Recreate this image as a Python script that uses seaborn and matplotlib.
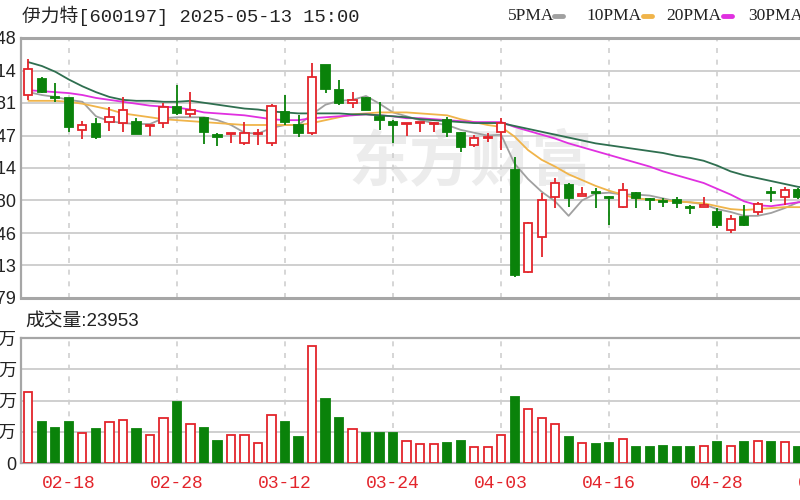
import matplotlib
matplotlib.use("Agg")
import matplotlib.pyplot as plt
from matplotlib.lines import Line2D
import seaborn as sns

# trading days shown (the last two are cut off by the right edge)
dates = ["02-13", "02-14", "02-17", "02-18", "02-19", "02-20", "02-21", "02-24", "02-25", "02-26",
         "02-27", "02-28", "03-03", "03-04", "03-05", "03-06", "03-07", "03-10", "03-11", "03-12",
         "03-13", "03-14", "03-17", "03-18", "03-19", "03-20", "03-21", "03-24", "03-25", "03-26",
         "03-27", "03-28", "03-31", "04-01", "04-02", "04-03", "04-07", "04-08", "04-09", "04-10",
         "04-11", "04-14", "04-15", "04-16", "04-17", "04-18", "04-21", "04-22", "04-23", "04-24",
         "04-25", "04-28", "04-29", "04-30", "05-06", "05-07", "05-08", "05-09", "05-12", "05-13"]

open_ = [16.89, 17.06, 16.87, 16.86, 16.53, 16.59, 16.61, 16.60, 16.61, 16.57, 16.60, 16.77, 16.69, 16.65, 16.48,
         16.49, 16.39, 16.49, 16.39, 16.71, 16.58, 16.50, 17.20, 16.94, 16.81, 16.86, 16.66, 16.61, 16.59, 16.60,
         16.59, 16.63, 16.50, 16.37, 16.45, 16.51, 16.11, 15.06, 15.42, 15.84, 15.96, 15.85, 15.89, 15.84, 15.73,
         15.88, 15.81, 15.79, 15.80, 15.73, 15.73, 15.68, 15.49, 15.63, 15.68, 15.89, 15.84, 15.91, 15.84, 15.82]
high = [17.26, 17.08, 17.01, 16.86, 16.62, 16.65, 16.77, 16.87, 16.65, 16.58, 16.81, 16.99, 16.92, 16.66, 16.50,
        16.50, 16.61, 16.54, 16.80, 16.89, 16.68, 17.22, 17.20, 17.05, 16.92, 16.87, 16.82, 16.63, 16.60, 16.61,
        16.61, 16.66, 16.51, 16.48, 16.50, 16.65, 16.25, 15.58, 15.88, 16.03, 15.98, 15.94, 15.93, 15.85, 15.98,
        15.89, 15.82, 15.82, 15.84, 15.75, 15.84, 15.72, 15.65, 15.75, 15.78, 15.94, 15.94, 15.93, 15.90, 15.88]
low = [16.84, 16.91, 16.82, 16.51, 16.43, 16.44, 16.52, 16.51, 16.49, 16.47, 16.55, 16.68, 16.66, 16.38, 16.36,
       16.39, 16.37, 16.37, 16.36, 16.58, 16.46, 16.48, 16.91, 16.79, 16.76, 16.73, 16.53, 16.39, 16.47, 16.51,
       16.51, 16.46, 16.30, 16.35, 16.40, 16.32, 15.01, 15.05, 15.21, 15.72, 15.73, 15.85, 15.72, 15.55, 15.72,
       15.72, 15.70, 15.73, 15.72, 15.66, 15.73, 15.51, 15.46, 15.54, 15.65, 15.78, 15.75, 15.81, 15.78, 15.76]
close = [17.16, 16.92, 16.86, 16.56, 16.58, 16.46, 16.66, 16.74, 16.49, 16.58, 16.77, 16.70, 16.74, 16.51, 16.46,
         16.50, 16.50, 16.50, 16.78, 16.61, 16.50, 17.08, 16.95, 16.81, 16.84, 16.74, 16.63, 16.58, 16.60, 16.60,
         16.59, 16.51, 16.35, 16.45, 16.46, 16.60, 15.03, 15.57, 15.80, 15.98, 15.82, 15.87, 15.88, 15.82, 15.91,
         15.82, 15.80, 15.78, 15.77, 15.72, 15.75, 15.55, 15.61, 15.55, 15.76, 15.88, 15.91, 15.84, 15.82, 15.80]

# moving averages as drawn on the chart
ma5 = [16.92, 16.89, 16.87, 16.84, 16.82, 16.67, 16.62, 16.60, 16.59, 16.59, 16.65, 16.66, 16.66, 16.66, 16.63,
       16.58, 16.50, 16.49, 16.55, 16.58, 16.58, 16.69, 16.79, 16.83, 16.84, 16.88, 16.80, 16.71, 16.67, 16.63,
       16.60, 16.58, 16.53, 16.50, 16.47, 16.48, 16.18, 16.02, 15.89, 15.79, 15.64, 15.80, 15.87, 15.88, 15.86,
       15.86, 15.85, 15.82, 15.79, 15.78, 15.76, 15.71, 15.68, 15.64, 15.64, 15.67, 15.72, 15.78, 15.80, 15.82]
ma10 = [16.83, 16.83, 16.83, 16.82, 16.80, 16.77, 16.74, 16.70, 16.68, 16.66, 16.64, 16.63, 16.62, 16.61, 16.60,
        16.59, 16.58, 16.58, 16.58, 16.58, 16.58, 16.60, 16.63, 16.66, 16.69, 16.70, 16.71, 16.71, 16.71, 16.70,
        16.69, 16.68, 16.64, 16.61, 16.58, 16.56, 16.46, 16.32, 16.22, 16.15, 16.07, 16.01, 15.95, 15.90, 15.86,
        15.82, 15.81, 15.80, 15.79, 15.78, 15.77, 15.74, 15.71, 15.70, 15.71, 15.72, 15.73, 15.73, 15.73, 15.73]
ma20 = [16.94, 16.93, 16.92, 16.91, 16.89, 16.86, 16.84, 16.82, 16.80, 16.78, 16.77, 16.76, 16.74, 16.71, 16.70,
        16.69, 16.68, 16.66, 16.64, 16.63, 16.63, 16.65, 16.66, 16.67, 16.68, 16.69, 16.68, 16.67, 16.65, 16.65,
        16.64, 16.63, 16.62, 16.61, 16.61, 16.61, 16.56, 16.52, 16.48, 16.44, 16.39, 16.35, 16.31, 16.27, 16.23,
        16.19, 16.15, 16.10, 16.06, 16.02, 15.98, 15.92, 15.86, 15.79, 15.75, 15.74, 15.76, 15.78, 15.79, 15.80]
ma30 = [17.23, 17.19, 17.13, 17.05, 16.98, 16.92, 16.87, 16.84, 16.83, 16.83, 16.82, 16.82, 16.83, 16.81, 16.79,
        16.77, 16.75, 16.74, 16.72, 16.71, 16.70, 16.70, 16.70, 16.70, 16.69, 16.69, 16.68, 16.67, 16.66, 16.64,
        16.63, 16.62, 16.61, 16.60, 16.60, 16.60, 16.57, 16.54, 16.51, 16.48, 16.45, 16.42, 16.39, 16.37, 16.35,
        16.33, 16.31, 16.29, 16.26, 16.24, 16.21, 16.16, 16.10, 16.06, 16.03, 16.00, 15.97, 15.94, 15.92, 15.90]

# volume in lots (手)
volume = [68200, 39400, 33600, 39400, 28800, 32600, 39400, 41300, 32600, 26900, 43200, 58600, 37400, 33600, 21100,
          26900, 26900, 19200, 46100, 39400, 25000, 112300, 61400, 43200, 32600, 28800, 28800, 28800, 21100, 18200,
          18200, 19200, 21100, 15400, 15400, 26900, 63400, 51800, 43200, 37400, 25000, 19200, 18200, 19200, 23000,
          15400, 15400, 16300, 15400, 15400, 16300, 20200, 16300, 20200, 21100, 20200, 20200, 15400, 19000, 23953]

price_ticks = [14.79, 15.13, 15.46, 15.80, 16.14, 16.47, 16.81, 17.14, 17.48]
price_labels = ["14.79", "15.13", "15.46", "15.80", "16.14", "16.47", "16.81", "17.14", "17.48"]
vol_ticks = [0, 30000, 60000, 90000, 120000]
vol_labels = ["0", "3万", "6万", "9万", "12万"]
date_ticks = [3, 11, 19, 27, 35, 43, 51, 59]

RED = "#e3242b"
GREEN = "#0a820a"
GRID = "#cfcfcf"
FRAME = "#a6a6a6"
ma_colors = {"5PMA": "#a0a0a0", "10PMA": "#f0b44a", "20PMA": "#e030e0", "30PMA": "#2f6f50"}

sns.set_theme(style="white")
plt.rcParams["font.family"] = ["Liberation Sans", "Noto Sans CJK SC", "DejaVu Sans"]

W, H = 800, 500
fig = plt.figure(figsize=(8, 5), dpi=100)
fig.patch.set_facecolor("white")
ax = fig.add_axes([21 / W, (H - 298) / H, 817 / W, 260 / H])
axv = fig.add_axes([21 / W, (H - 463) / H, 817 / W, 125 / H])

idx = list(range(len(dates)))
up = [c >= o for o, c in zip(open_, close)]

# wicks
ax.vlines(idx, low, high, colors=[RED if u else GREEN for u in up], lw=1.3, zorder=3)
# bodies
bottoms = [min(o, c) for o, c in zip(open_, close)]
heights = [max(abs(c - o), 0.008) for o, c in zip(open_, close)]
ax.bar(idx, heights, bottom=bottoms, width=0.6,
       facecolor=["white" if u else GREEN for u in up],
       edgecolor=[RED if u else GREEN for u in up], linewidth=1.3, zorder=4)

for name, vals in zip(ma_colors, [ma5, ma10, ma20, ma30]):
    sns.lineplot(x=idx, y=vals, ax=ax, color=ma_colors[name], lw=1.3, zorder=2)

# faint watermark
ax.text(0.55, 0.52, "东方财富", transform=ax.transAxes, fontsize=44, fontweight="bold",
        style="italic", color="#ececec", ha="center", va="center", zorder=0.5,
        family=["Noto Sans CJK SC"])

# volume bars
axv.bar(idx, volume, width=0.6,
        facecolor=["white" if u else GREEN for u in up],
        edgecolor=[RED if u else GREEN for u in up], linewidth=1.3, zorder=3)

for a in (ax, axv):
    a.set_xlim(-0.55, 59.95)
    a.set_xticks(date_ticks)
    a.grid(True, axis="y", color=GRID, lw=1.4)
    a.grid(True, axis="x", color=GRID, lw=1.2, ls=(0, (3, 4)))
    a.tick_params(length=0, pad=3, labelsize=13, labelcolor="#222222")
    for s in a.spines.values():
        s.set_color(FRAME)
        s.set_linewidth(1.6)
    a.set_xlabel("")
    a.set_ylabel("")
    a.set_facecolor("white")

ax.set_ylim(14.79, 17.48)
ax.set_yticks(price_ticks)
ax.set_yticklabels(price_labels)
ax.set_xticklabels([])
ax.spines["top"].set_linewidth(2.2)
ax.spines["bottom"].set_linewidth(2.2)

axv.set_ylim(0, 120000)
axv.set_yticks(vol_ticks)
axv.set_yticklabels(vol_labels)
axv.set_xticklabels([dates[i] for i in date_ticks], color=RED, fontsize=13,
                    family=["Liberation Mono"])
axv.tick_params(axis="x", pad=9)

fig.text(22 / W, 1 - 16 / H, "伊力特[600197] 2025-05-13 15:00", fontsize=13.5,
         family=["Liberation Mono", "Noto Sans CJK SC"], color="#222222", va="center")
fig.text(25 / W, 1 - 322 / H, "成交量:23953", fontsize=13.5,
         family=["Liberation Sans", "Noto Sans CJK SC"], color="#222222", va="center")

# legend along the top right
leg_x = [508, 586, 666, 748]
for (name, col), x0 in zip(ma_colors.items(), leg_x):
    fig.text(x0 / W, 1 - 16 / H, name, fontsize=12.5, family=["Liberation Serif"],
             color="#222222", va="center")
    tw = 11 * len(name)
    fig.add_artist(Line2D([(x0 + tw + 2) / W, (x0 + tw + 11) / W], [1 - 16 / H, 1 - 16 / H],
                          transform=fig.transFigure, color=col, lw=3.5))

fig.savefig("out.png", dpi=100, facecolor="white")
